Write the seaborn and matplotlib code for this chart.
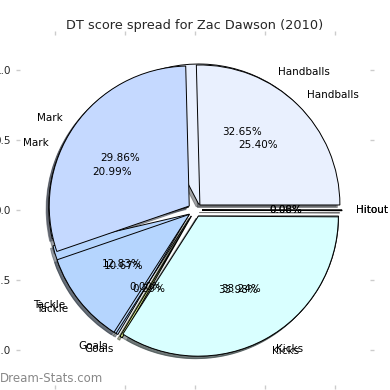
import matplotlib
matplotlib.use("Agg")
import matplotlib.pyplot as plt
import seaborn as sns

sns.set_style("white")
plt.rcParams['font.family'] = ['DejaVu Sans']

categories = ["Handballs", "Mark", "Tackle", "Goals", "Kicks", "Hitout"]
values_a = [32.65, 20.99, 12.83, 0.29, 33.24, 0.00]
values_b = [25.40, 29.86, 10.67, 0.00, 33.98, 0.08]
colors = ["#e9f0fe", "#c5d9ff", "#b5d5fe", "#d2e982", "#d9ffff", "#f4f4f4"]
title = "DT score spread for Zac Dawson (2010)"

fig = plt.figure(figsize=(3.9, 3.9), dpi=100)
ax = fig.add_axes([20 / 390, 5 / 390, 350 / 390, 350 / 390])

explode = [0.05] * len(categories)
for vals in (values_a, values_b):
    ax.pie(vals, labels=categories, colors=colors, explode=explode,
           autopct="%1.2f%%", shadow={"ox": -0.013, "oy": -0.013},
           startangle=0, counterclock=True,
           labeldistance=1.1, pctdistance=0.6,
           wedgeprops=dict(edgecolor="black", linewidth=0.7),
           textprops=dict(fontsize=7.5, color="black"), frame=True)

ax.set_xlim(-1.25, 1.25)
ax.set_ylim(-1.25, 1.25)
ax.set_aspect("equal")
ax.set_xticks([-1.0, -0.5, 0.0, 0.5, 1.0])
ax.set_yticks([-1.0, -0.5, 0.0, 0.5, 1.0])
for s in ax.spines.values():
    s.set_visible(False)
ax.tick_params(axis="both", which="both", bottom=True, left=True, top=True,
               right=True, labelbottom=True, labelleft=True, color="#cccccc",
               length=3, width=1, labelsize=7.5, direction="out")
ax.set_title(title, fontsize=9.3, pad=4)
fig.text(0.0, 1 - 379 / 390, "Dream-Stats.com", fontsize=8.5, color="#888888",
         va="center", ha="left")

fig.savefig("out.png", dpi=100)
